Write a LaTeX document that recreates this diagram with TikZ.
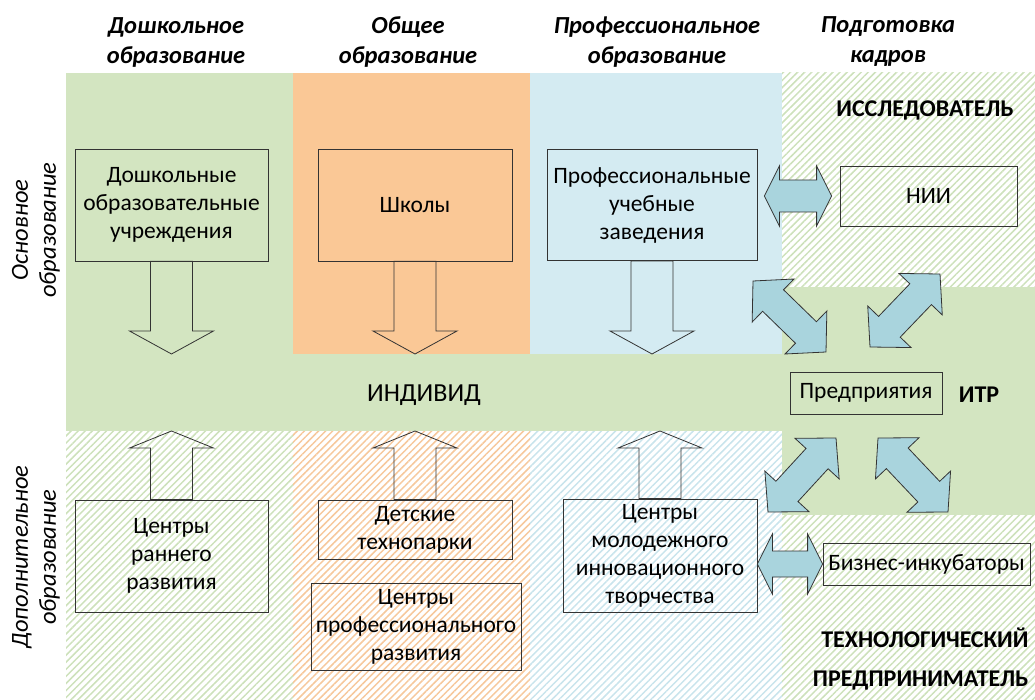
\documentclass[tikz,border=0pt]{standalone}
\usepackage{fontspec}
\setmainfont{Carlito}
\usetikzlibrary{positioning,calc,patterns.meta}

\definecolor{ltgreen}{HTML}{D3E5C1}
\definecolor{ltorange}{HTML}{FAC896}
\definecolor{ltblue}{HTML}{D4EBF2}
\definecolor{hgreen}{HTML}{CDE1BB}
\definecolor{horange}{HTML}{F6C89C}
\definecolor{hblue}{HTML}{C9E4EC}
\definecolor{arrowblue}{HTML}{A9D4DD}
\definecolor{edge}{HTML}{333333}

\tikzset{
  box/.style={draw=edge, line width=0.8pt, align=center, inner sep=2pt,
    font=\fontsize{23.5}{28}\selectfont},
  hdr/.style={font=\fontsize{24.5}{30}\selectfont\bfseries\itshape, align=center},
  side/.style={font=\fontsize{24.5}{28}\selectfont\itshape, align=center, rotate=90},
  role/.style={font=\fontsize{24}{39}\selectfont\bfseries},
  hollow/.style={draw=edge, line width=0.8pt},
  twin/.style={draw=edge, line width=0.8pt, fill=arrowblue},
  hatch/.style={pattern={Lines[angle=45,distance=5pt,line width=1.5pt]}, pattern color=#1},
}

% block arrow: from, to, shaft half width, head half width, head length
\newcommand{\onearrow}[5]{%
  \draw[hollow] ($(#1)!#3!90:(#2)$) -- ($($(#2)!#5!(#1)$)!#3!90:(#2)$)
    -- ($($(#2)!#5!(#1)$)!#4!90:(#2)$) -- (#2)
    -- ($($(#2)!#5!(#1)$)!#4!-90:(#2)$) -- ($($(#2)!#5!(#1)$)!#3!-90:(#2)$)
    -- ($(#1)!#3!-90:(#2)$) -- cycle;}
% double block arrow, same arguments
\newcommand{\twoarrow}[5]{%
  \draw[twin] (#1) -- ($($(#1)!#5!(#2)$)!#4!90:(#2)$) -- ($($(#1)!#5!(#2)$)!#3!90:(#2)$)
    -- ($($(#2)!#5!(#1)$)!#3!-90:(#1)$) -- ($($(#2)!#5!(#1)$)!#4!-90:(#1)$) -- (#2)
    -- ($($(#2)!#5!(#1)$)!#4!90:(#1)$) -- ($($(#2)!#5!(#1)$)!#3!90:(#1)$)
    -- ($($(#1)!#5!(#2)$)!#3!-90:(#2)$) -- ($($(#1)!#5!(#2)$)!#4!-90:(#2)$) -- cycle;}

\begin{document}
\begin{tikzpicture}[x=1pt,y=-1pt]
  \useasboundingbox (0,0) rectangle (1035,700);

  % backgrounds
  \fill[ltgreen] (66,73) rectangle (293,354);
  \fill[ltorange] (293,73) rectangle (530,354);
  \fill[ltblue] (530,73) rectangle (782,354);
  \fill[ltgreen] (66,354) rectangle (782,431);
  \fill[ltgreen] (782,287) rectangle (1035,515);
  \fill[hatch=hgreen] (66,431) rectangle (293,700);
  \fill[hatch=horange] (293,431) rectangle (530,700);
  \fill[hatch=hblue] (530,431) rectangle (782,700);
  \fill[hatch=hgreen] (782,73) rectangle (1035,287);
  \fill[hatch=hgreen] (782,515) rectangle (1035,700);

  % headings
  \node[hdr] (pre) at (176,42) {Дошкольное\\образование};
  \node[hdr] (gen) at (408,42) {Общее\\образование};
  \node[hdr] (voc) at (657,42) {Профессиональное\\образование};
  \node[hdr] (staff) at (888,42) {Подготовка\\кадров};
  \node[side] (basic) at (36,230) {Основное\\образование};
  \node[side] (extra) at (36,557) {Дополнительное\\образование};

  % roles
  \node[role] (res) at (925,110) {ИССЛЕДОВАТЕЛЬ};
  \node[role] (itr) at (979,395) {ИТР};
  \node[role, align=right, anchor=east] (ent) at (1032,659) {ТЕХНОЛОГИЧЕСКИЙ\\ПРЕДПРИНИМАТЕЛЬ};
  \node[font=\fontsize{26}{30}\selectfont] (ind) at (424,395) {ИНДИВИД};
  \coordinate (bandtop) at (0,354);
  \coordinate (bandbot) at (0,431);

  % boxes
  \node[box, minimum width=193pt, minimum height=112pt] (doo) at (171.5,205) {Дошкольные\\образовательные\\учреждения};
  \node[box, minimum width=194pt, minimum height=112pt] (shk) at (415,205) {Школы};
  \node[box, minimum width=210pt, minimum height=111pt] (prof) at (652,205) {Профессиональные\\учебные\\заведения};
  \node[box, minimum width=177pt, minimum height=60pt] (nii) at (928.5,196) {НИИ};
  \node[box, minimum width=152pt, minimum height=42pt] (pred) at (866,393) {Предприятия};
  \node[box, minimum width=207pt, minimum height=42pt] (biz) at (926.5,564) {Бизнес-инкубаторы};
  \node[box, minimum width=193pt, minimum height=112pt] (rann) at (171.5,556) {Центры\\раннего\\развития};
  \node[box, minimum width=194pt, minimum height=59pt] (park) at (415,529.5) {Детские\\технопарки};
  \node[box, minimum width=210pt, minimum height=87pt] (cpr) at (416,626.5) {Центры\\профессионального\\развития};
  \node[box, minimum width=194pt, minimum height=113pt] (molod) at (660,555.5) {Центры\\молодежного\\инновационного\\творчества};

  % arrows to the individual
  \coordinate (doo-in) at (doo.south |- bandtop);
  \coordinate (shk-in) at (shk.south |- bandtop);
  \coordinate (prof-in) at (prof.south |- bandtop);
  \coordinate (rann-in) at (rann.north |- bandbot);
  \coordinate (park-in) at (park.north |- bandbot);
  \coordinate (molod-in) at (molod.north |- bandbot);
  \onearrow{doo.south}{doo-in}{21pt}{42pt}{23pt}
  \onearrow{shk.south}{shk-in}{21pt}{42pt}{23pt}
  \onearrow{prof.south}{prof-in}{21pt}{42pt}{23pt}
  \onearrow{rann.north}{rann-in}{21pt}{42pt}{17pt}
  \onearrow{park.north}{park-in}{21pt}{42pt}{17pt}
  \onearrow{molod.north}{molod-in}{21pt}{42pt}{17pt}

  % links of the staff column
  \coordinate (pa) at ($(nii.west -| prof.east)+(7,0)$);
  \coordinate (pb) at ($(nii.west)+(-8,0)$);
  \coordinate (ma) at (biz.west -| molod.east);
  \coordinate (d1a) at (753,281);
  \coordinate (d1b) at (826,352);
  \coordinate (d2a) at (870,347);
  \coordinate (d2b) at (940,274);
  \coordinate (d3a) at (768,512);
  \coordinate (d3b) at (836,438);
  \coordinate (d4a) at (878,438);
  \coordinate (d4b) at (948,512);
  \twoarrow{pa}{pb}{16pt}{30pt}{15pt}
  \twoarrow{ma}{biz.west}{13pt}{30pt}{15pt}
  \twoarrow{d1a}{d1b}{15pt}{30pt}{28pt}
  \twoarrow{d2a}{d2b}{15pt}{30pt}{28pt}
  \twoarrow{d3a}{d3b}{15pt}{30pt}{28pt}
  \twoarrow{d4a}{d4b}{15pt}{30pt}{28pt}
\end{tikzpicture}
\end{document}
